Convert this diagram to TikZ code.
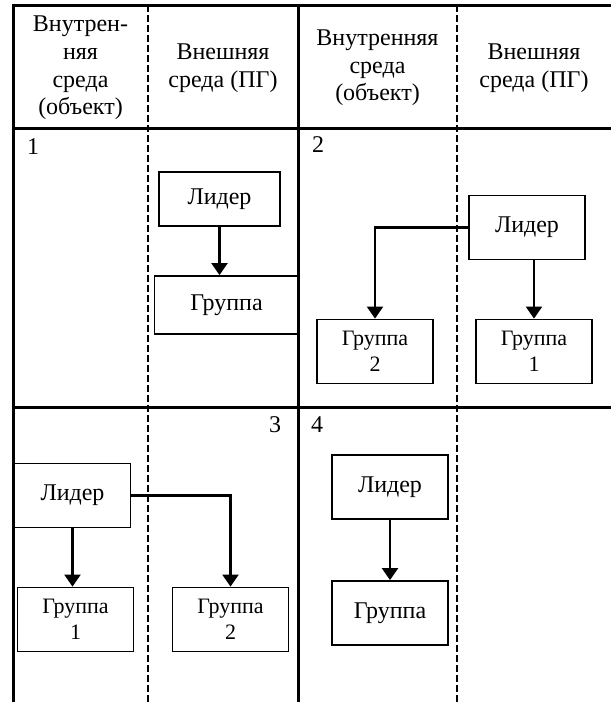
\documentclass[tikz,border=0pt]{standalone}
\usepackage{fontspec}
\setmainfont{Liberation Serif}
\usetikzlibrary{positioning, arrows.meta}

\tikzset{
	tablepicture/.style = {
		x = 0.5pt,
		y = -0.5pt,
		node distance = 62pt,
		font = \fontsize{12}{13.8}\selectfont,
		arrow/.style = {
			draw,
			-{Triangle[length=6pt, width=8pt]},
			line width = 1.1pt,
		}
	},
	tableline/.style = {
		draw,
		line width = 1.5pt
	},
	tabledash/.style = {
		draw,
		line width = 1pt,
		dash pattern = on 3.5pt off 1.5pt
	},
	headnode/.style = {
		align = center
	},
	boxnode/.style = {
		rectangle,
		draw = black,
		line width = 0.9pt,
		minimum width = 58pt,
		minimum height = 32pt
	},
	twoline/.style = {
		align = center,
		font = \fontsize{11}{13}\selectfont
	}
}

\begin{document}
\begin{tikzpicture}[tablepicture]
	\useasboundingbox (0,0) rectangle (611,702);

	% table
	\path[tableline] (13,702) -- (13,5) -- (611,5);
	\path[tableline] (13,128) -- (611,128);
	\path[tableline] (13,407) -- (611,407);
	\path[tableline] (298,5) -- (298,702);
	\path[tabledash] (148,5) -- (148,702);
	\path[tabledash] (457,5) -- (457,702);

	\node[headnode] (H1) at (80.5,68) {Внутрен-\\няя\\среда\\(объект)};
	\node[headnode] (H2) at (223,68) {Внешняя\\среда (ПГ)};
	\node[headnode] (H3) at (377.5,68) {Внутренняя\\среда\\(объект)};
	\node[headnode] (H4) at (534,68) {Внешняя\\среда (ПГ)};

	\node (N1) at (33,147) {1};
	\node (N2) at (318,145) {2};
	\node (N3) at (275,425) {3};
	\node (N4) at (317,425) {4};

	% 1
	\node[boxnode, minimum width = 60.5pt, minimum height = 27pt] (L1) at (219.5,199) {Лидер};
	\node[boxnode, minimum width = 72pt, minimum height = 29pt, node distance = 53pt, below of = L1, xshift = 3.5pt] (G1) {Группа};

	% 2
	\node[boxnode] (L2) at (527,227.5) {Лидер};
	\node[boxnode, twoline, below of = L2, xshift = 3.5pt] (G2a) {Группа\\1};
	\node[boxnode, twoline, node distance = 79.5pt, left of = G2a] (G2b) {Группа\\2};

	% 3
	\node[boxnode] (L3) at (72.5,495.5) {Лидер};
	\node[boxnode, twoline, below of = L3, xshift = 1.5pt] (G3a) {Группа\\1};
	\node[boxnode, twoline, node distance = 77.5pt, right of = G3a] (G3b) {Группа\\2};

	% 4
	\node[boxnode] (L4) at (390,487) {Лидер};
	\node[boxnode, node distance = 63pt, below of = L4] (G4) {Группа};

	\begin{scope}[every path/.style = arrow]
		\path (L1.south) -- (L1.south |- G1.north);
		\path (G2a.north |- L2.south) -- (G2a.north);
		\path (L2.west) -| (G2b.north);
		\path (L3.south) -- (L3.south |- G3a.north);
		\path (L3.east) -| (G3b.north);
		\path (L4.south) -- (G4.north);
	\end{scope}
\end{tikzpicture}
\end{document}
